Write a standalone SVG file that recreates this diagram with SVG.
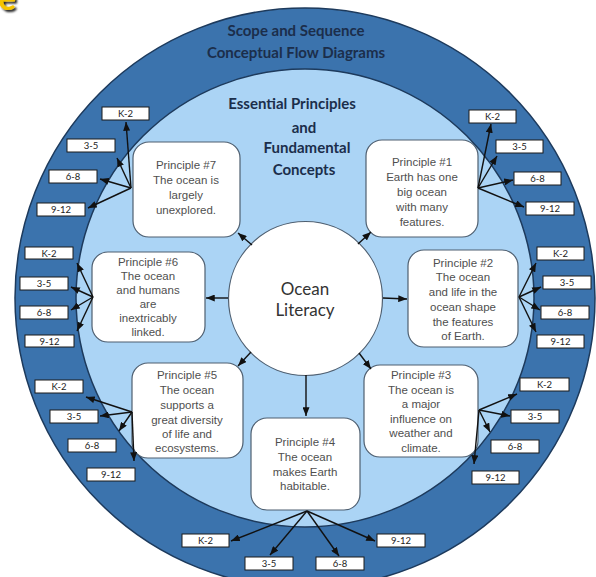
<svg xmlns="http://www.w3.org/2000/svg" width="596" height="577" viewBox="0 0 596 577">
<defs>
<marker id="ah" viewBox="0 0 10 8" refX="10" refY="4" markerWidth="9" markerHeight="7" orient="auto" markerUnits="userSpaceOnUse"><path d="M0,0 L10,4 L0,8 z" fill="#111"/></marker>
<filter id="sh" x="-50%" y="-50%" width="200%" height="200%"><feDropShadow dx="2" dy="2" stdDeviation="1" flood-color="#000" flood-opacity="0.9"/></filter>
</defs>
<style>
.title{font-family:Lato,"Open Sans",sans-serif;font-weight:bold;font-size:15px;fill:#1b2e4b;text-anchor:middle}
.sub{font-family:Lato,"Open Sans",sans-serif;font-weight:bold;font-size:15px;fill:#1b2e4b;text-anchor:middle}
.pbox{fill:#fff;stroke:#4f5f70;stroke-width:1.2}
.ptxt{font-family:"Liberation Sans",Arial,sans-serif;font-size:11.5px;fill:#4f4f4f;text-anchor:middle}
.gbox{fill:#fff;stroke:#1a1a1a;stroke-width:1}
.gtxt{font-family:Lato,"Open Sans",sans-serif;font-size:9.5px;fill:#222;text-anchor:middle}
.con line{stroke:#111;stroke-width:1.4;marker-end:url(#ah)}
</style>
<rect width="596" height="577" fill="#fff"/>
<text x="-2" y="10" font-family="Lato,sans-serif" font-weight="bold" font-size="34" fill="#f5c400" filter="url(#sh)">e</text>

<g id="outer-ring">
<circle cx="305" cy="298" r="290" fill="#3b73ad" stroke="#1d3a5c" stroke-width="1.5"/>
<circle cx="305" cy="298" r="229" fill="#abd4f5" stroke="#1d3a5c" stroke-width="1.5"/>
</g>
<g id="title">
<text class="title" x="296" y="36">Scope and Sequence</text>
<text class="title" x="296" y="58">Conceptual Flow Diagrams</text>
</g>
<g id="subtitle">
<text class="sub" x="292" y="109">Essential Principles</text>
<text class="sub" x="304" y="133">and</text>
<text class="sub" x="307" y="153">Fundamental</text>
<text class="sub" x="304" y="175">Concepts</text>
</g>

<g id="ocean-literacy">
<circle cx="305.5" cy="298.5" r="77" fill="#fff" stroke="#4f5f70" stroke-width="1.2"/>
<text x="305" y="295" font-family="Lato,'Open Sans',sans-serif" font-size="17" fill="#333" text-anchor="middle">Ocean</text>
<text x="305" y="316" font-family="Lato,'Open Sans',sans-serif" font-size="17" fill="#333" text-anchor="middle">Literacy</text>
</g>

<g id="principle-7">
<rect class="pbox" x="133" y="142" width="107" height="95" rx="16"/>
<text class="ptxt"><tspan x="186" y="169">Principle #7</tspan><tspan x="186" y="184">The ocean is</tspan><tspan x="186" y="199">largely</tspan><tspan x="186" y="214">unexplored.</tspan></text>
</g>
<g id="principle-6">
<rect class="pbox" x="92" y="252" width="113" height="90" rx="16"/>
<text class="ptxt"><tspan x="148" y="266">Principle #6</tspan><tspan x="148" y="280">The ocean</tspan><tspan x="148" y="294">and humans</tspan><tspan x="148" y="308">are</tspan><tspan x="148" y="322">inextricably</tspan><tspan x="148" y="336">linked.</tspan></text>
</g>
<g id="principle-1">
<rect class="pbox" x="366" y="140" width="112" height="97" rx="16"/>
<text class="ptxt"><tspan x="422" y="166">Principle #1</tspan><tspan x="422" y="181">Earth has one</tspan><tspan x="422" y="196">big ocean</tspan><tspan x="422" y="211">with many</tspan><tspan x="422" y="226">features.</tspan></text>
</g>
<g id="principle-2">
<rect class="pbox" x="408" y="250" width="110" height="97" rx="16"/>
<text class="ptxt"><tspan x="463" y="267">Principle #2</tspan><tspan x="463" y="281">The ocean</tspan><tspan x="463" y="296">and life in the</tspan><tspan x="463" y="311">ocean shape</tspan><tspan x="463" y="326">the features</tspan><tspan x="463" y="340">of Earth.</tspan></text>
</g>
<g id="principle-5">
<rect class="pbox" x="132" y="363" width="111" height="95" rx="16"/>
<text class="ptxt"><tspan x="187" y="379">Principle #5</tspan><tspan x="187" y="394">The ocean</tspan><tspan x="187" y="409">supports a</tspan><tspan x="187" y="424">great diversity</tspan><tspan x="187" y="438">of life and</tspan><tspan x="187" y="452">ecosystems.</tspan></text>
</g>
<g id="principle-3">
<rect class="pbox" x="364" y="365" width="114" height="92" rx="16"/>
<text class="ptxt"><tspan x="421" y="379">Principle #3</tspan><tspan x="421" y="394">The ocean is</tspan><tspan x="421" y="408">a major</tspan><tspan x="421" y="423">influence on</tspan><tspan x="421" y="437">weather and</tspan><tspan x="421" y="452">climate.</tspan></text>
</g>
<g id="principle-4">
<rect class="pbox" x="251" y="418" width="109" height="92" rx="16"/>
<text class="ptxt"><tspan x="305" y="446">Principle #4</tspan><tspan x="305" y="461">The ocean</tspan><tspan x="305" y="476">makes Earth</tspan><tspan x="305" y="490">habitable.</tspan></text>
</g>

<g id="p7-k2"><rect class="gbox" x="102" y="107" width="47" height="13"/><text class="gtxt" x="125.5" y="117">K-2</text></g>
<g id="p7-35"><rect class="gbox" x="67" y="139" width="48" height="13"/><text class="gtxt" x="91" y="149">3-5</text></g>
<g id="p7-68"><rect class="gbox" x="49" y="170" width="48" height="13"/><text class="gtxt" x="73" y="180">6-8</text></g>
<g id="p7-912"><rect class="gbox" x="37" y="203" width="48" height="13"/><text class="gtxt" x="61" y="213">9-12</text></g>

<g id="p6-k2"><rect class="gbox" x="25" y="247" width="48" height="12"/><text class="gtxt" x="49" y="256.5">K-2</text></g>
<g id="p6-35"><rect class="gbox" x="20" y="277" width="48" height="13"/><text class="gtxt" x="44" y="287">3-5</text></g>
<g id="p6-68"><rect class="gbox" x="20" y="306" width="48" height="13"/><text class="gtxt" x="44" y="316">6-8</text></g>
<g id="p6-912"><rect class="gbox" x="25" y="335" width="49" height="12"/><text class="gtxt" x="49.5" y="344.5">9-12</text></g>

<g id="p1-k2"><rect class="gbox" x="469" y="110" width="47" height="13"/><text class="gtxt" x="492.5" y="120">K-2</text></g>
<g id="p1-35"><rect class="gbox" x="496" y="140" width="47" height="13"/><text class="gtxt" x="519.5" y="150">3-5</text></g>
<g id="p1-68"><rect class="gbox" x="514" y="172" width="47" height="13"/><text class="gtxt" x="537.5" y="182">6-8</text></g>
<g id="p1-912"><rect class="gbox" x="526" y="202" width="48" height="13"/><text class="gtxt" x="550" y="212">9-12</text></g>

<g id="p2-k2"><rect class="gbox" x="537" y="247" width="47" height="13"/><text class="gtxt" x="560.5" y="257">K-2</text></g>
<g id="p2-35"><rect class="gbox" x="543" y="276" width="48" height="13"/><text class="gtxt" x="567" y="286">3-5</text></g>
<g id="p2-68"><rect class="gbox" x="541" y="306" width="48" height="13"/><text class="gtxt" x="565" y="316">6-8</text></g>
<g id="p2-912"><rect class="gbox" x="537" y="335" width="47" height="13"/><text class="gtxt" x="560.5" y="345">9-12</text></g>

<g id="p5-k2"><rect class="gbox" x="35" y="380" width="48" height="13"/><text class="gtxt" x="59" y="390">K-2</text></g>
<g id="p5-35"><rect class="gbox" x="50" y="410" width="48" height="13"/><text class="gtxt" x="74" y="420">3-5</text></g>
<g id="p5-68"><rect class="gbox" x="68" y="439" width="48" height="13"/><text class="gtxt" x="92" y="449">6-8</text></g>
<g id="p5-912"><rect class="gbox" x="87" y="468" width="48" height="13"/><text class="gtxt" x="111" y="478">9-12</text></g>

<g id="p3-k2"><rect class="gbox" x="520" y="378" width="49" height="13"/><text class="gtxt" x="544.5" y="388">K-2</text></g>
<g id="p3-35"><rect class="gbox" x="511" y="410" width="48" height="13"/><text class="gtxt" x="535" y="420">3-5</text></g>
<g id="p3-68"><rect class="gbox" x="491" y="440" width="48" height="13"/><text class="gtxt" x="515" y="450">6-8</text></g>
<g id="p3-912"><rect class="gbox" x="472" y="471" width="47" height="13"/><text class="gtxt" x="495.5" y="481">9-12</text></g>

<g id="p4-k2"><rect class="gbox" x="182" y="534" width="47" height="13"/><text class="gtxt" x="205.5" y="544">K-2</text></g>
<g id="p4-35"><rect class="gbox" x="245" y="557" width="48" height="13"/><text class="gtxt" x="269" y="567">3-5</text></g>
<g id="p4-68"><rect class="gbox" x="316" y="557" width="48" height="13"/><text class="gtxt" x="340" y="567">6-8</text></g>
<g id="p4-912"><rect class="gbox" x="377" y="534" width="48" height="13"/><text class="gtxt" x="401" y="544">9-12</text></g>

<g id="connectors" class="con">
<line x1="252" y1="245" x2="238" y2="233"/>
<line x1="228" y1="298" x2="206" y2="298"/>
<line x1="358" y1="244" x2="371" y2="232"/>
<line x1="383" y1="298" x2="407" y2="299"/>
<line x1="251" y1="352" x2="238" y2="366"/>
<line x1="359" y1="353" x2="371" y2="369"/>
<line x1="306" y1="375" x2="306" y2="416"/>

<line x1="131" y1="188" x2="126" y2="122"/>
<line x1="131" y1="188" x2="117" y2="158"/>
<line x1="131" y1="188" x2="100" y2="179"/>
<line x1="131" y1="188" x2="88" y2="208"/>

<line x1="93" y1="297" x2="77" y2="263"/>
<line x1="93" y1="297" x2="71" y2="287"/>
<line x1="93" y1="297" x2="71" y2="310"/>
<line x1="93" y1="297" x2="77" y2="331"/>

<line x1="478" y1="188" x2="491" y2="124"/>
<line x1="478" y1="188" x2="497" y2="156"/>
<line x1="478" y1="188" x2="513" y2="180"/>
<line x1="478" y1="188" x2="524" y2="207"/>

<line x1="519" y1="297" x2="536" y2="263"/>
<line x1="519" y1="297" x2="541" y2="287"/>
<line x1="519" y1="297" x2="540" y2="310"/>
<line x1="519" y1="297" x2="536" y2="332"/>

<line x1="132" y1="412" x2="86" y2="397"/>
<line x1="132" y1="412" x2="100" y2="416"/>
<line x1="132" y1="412" x2="119" y2="431"/>
<line x1="132" y1="412" x2="134" y2="461"/>

<line x1="479" y1="410" x2="517" y2="394"/>
<line x1="479" y1="410" x2="510" y2="416"/>
<line x1="479" y1="410" x2="490" y2="432"/>
<line x1="479" y1="410" x2="474" y2="464"/>

<line x1="307" y1="511" x2="231" y2="541"/>
<line x1="307" y1="511" x2="270" y2="555"/>
<line x1="307" y1="511" x2="339" y2="556"/>
<line x1="307" y1="511" x2="375" y2="541"/>
</g>
</svg>
